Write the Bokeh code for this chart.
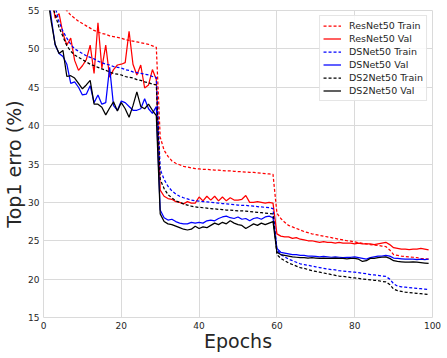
from bokeh.plotting import figure
from bokeh.models import Range1d, FixedTicker, Legend, LegendItem
from bokeh.embed import file_html
from bokeh.resources import INLINE

epochs = list(range(100))

resnet_train = [
    75.0, 68.0, 62.0, 58.5, 56.5, 55.6, 55.0, 54.4, 54.0, 53.6,
    53.3, 53.0, 52.7, 52.4, 52.2, 52.0, 51.9, 51.7, 51.6, 51.5,
    51.4, 51.2, 51.1, 51.0, 50.9, 50.8, 50.7, 50.6, 50.4, 50.2,
    38.5, 36.8, 36.0, 35.4, 35.1, 34.9, 34.7, 34.6, 34.5, 34.4,
    34.35, 34.3, 34.3, 34.25, 34.2, 34.2, 34.15, 34.1, 34.1, 34.05,
    34.0, 34.0, 33.95, 33.9, 33.9, 33.85, 33.8, 33.75, 33.7, 33.65,
    28.6, 27.9, 27.4, 27.0, 26.8, 26.6, 26.4, 26.2, 26.05, 25.9,
    25.8, 25.7, 25.6, 25.5, 25.4, 25.3, 25.2, 25.1, 25.0, 24.95,
    24.85, 24.75, 24.65, 24.6, 24.5, 24.45, 24.4, 24.3, 24.25, 23.8,
    23.2, 23.1, 23.0, 22.95, 22.9, 22.85, 22.8, 22.7, 22.65, 22.6,
]
resnet_val = [
    70.0, 62.0, 57.0, 54.0, 54.6, 52.0, 50.5, 51.4, 48.5, 47.2,
    47.8, 48.6, 50.5, 46.8, 53.4, 47.5, 50.5, 46.3, 47.3, 47.9,
    48.0, 48.2, 52.3, 48.0, 46.6, 47.9, 44.9, 45.3, 47.3, 46.0,
    31.6, 30.8, 30.5, 30.4, 30.1, 30.0, 29.8, 30.1, 29.9, 29.9,
    30.7, 30.2, 30.8, 30.3, 30.8, 30.2, 30.7, 30.2, 30.6, 30.3,
    30.3, 30.4, 30.9, 30.0, 30.0, 30.1, 30.0, 29.9, 30.0, 29.9,
    25.9, 25.6, 25.5, 25.5, 25.3, 25.4, 25.2, 25.1, 25.0, 25.0,
    24.9, 24.8, 24.9, 24.8, 24.8, 24.7, 24.8, 24.7, 24.7, 24.7,
    24.6, 24.7, 24.6, 24.6, 24.6, 24.5, 24.6, 24.7, 24.8, 24.5,
    24.1, 24.0, 23.9, 23.9, 23.85, 23.9, 23.9, 24.0, 23.9, 23.8,
]
dsnet_train = [
    68.0, 61.0, 57.0, 55.5, 53.5, 52.3, 51.4, 50.6, 50.0, 49.7,
    49.4, 49.1, 48.9, 48.7, 48.4, 48.2, 48.0, 47.9, 47.7, 47.6,
    47.5, 47.3, 47.2, 47.0, 46.9, 46.8, 46.7, 46.6, 46.4, 46.3,
    34.3, 33.0, 32.1, 31.5, 31.1, 30.8, 30.6, 30.45, 30.3, 30.2,
    30.15, 30.1, 30.05, 30.0, 29.95, 29.9, 29.85, 29.8, 29.75, 29.7,
    29.65, 29.6, 29.6, 29.55, 29.5, 29.45, 29.4, 29.35, 29.3, 29.2,
    23.8, 23.2, 22.9, 22.6, 22.4, 22.2, 22.0, 21.9, 21.8, 21.7,
    21.6, 21.5, 21.4, 21.3, 21.25, 21.2, 21.1, 21.05, 21.0, 20.95,
    20.9, 20.85, 20.75, 20.7, 20.6, 20.55, 20.5, 20.4, 20.35, 20.0,
    19.4, 19.1, 19.0, 18.95, 18.9, 18.85, 18.8, 18.75, 18.7, 18.65,
]
dsnet_val = [
    65.0, 58.0, 54.0, 50.5, 49.4, 49.0, 48.0, 45.5, 45.7, 45.0,
    44.0, 44.1, 45.2, 43.0, 44.0, 42.8, 43.0, 47.6, 42.6, 42.0,
    43.2, 43.0, 42.5, 42.0, 42.0, 42.2, 43.5, 42.2, 41.6, 42.5,
    29.0, 28.0, 27.7, 27.8, 27.5, 27.3, 27.2, 27.2, 27.4, 27.3,
    27.4, 27.3, 27.6, 27.7, 27.6, 27.9, 28.1, 28.2, 28.0, 27.9,
    28.1, 27.8, 27.9, 27.6, 27.9, 28.0, 27.8, 28.1, 28.2, 28.0,
    24.0, 23.5, 23.4, 23.3, 23.2, 23.2, 23.1, 23.1, 23.0, 23.0,
    22.95, 22.9, 22.95, 22.9, 22.85, 22.9, 22.85, 22.8, 22.85, 22.85,
    22.9, 22.8, 22.7, 22.6, 22.8, 22.9, 23.0, 23.0, 23.1, 23.0,
    22.75, 22.7, 22.65, 22.6, 22.6, 22.6, 22.55, 22.6, 22.55, 22.6,
]
ds2net_train = [
    66.0, 59.0, 56.0, 54.5, 52.8, 51.6, 50.4, 49.7, 49.2, 48.9,
    48.6, 48.3, 48.0, 47.8, 47.6, 47.4, 47.2, 47.0, 46.8, 46.7,
    46.6, 46.4, 46.3, 46.2, 46.0, 45.9, 45.7, 45.6, 45.4, 45.3,
    33.0, 31.8, 31.0, 30.6, 30.2, 30.0, 29.8, 29.65, 29.5, 29.4,
    29.35, 29.3, 29.25, 29.2, 29.15, 29.1, 29.05, 29.0, 29.0, 28.95,
    28.9, 28.9, 28.85, 28.8, 28.75, 28.7, 28.65, 28.6, 28.55, 28.5,
    23.2, 22.7, 22.4, 22.1, 21.9, 21.7, 21.5, 21.4, 21.25, 21.1,
    21.0, 20.9, 20.8, 20.7, 20.6, 20.5, 20.4, 20.35, 20.3, 20.2,
    20.15, 20.1, 20.0, 19.95, 19.9, 19.85, 19.8, 19.7, 19.65, 19.3,
    18.7, 18.5, 18.4, 18.3, 18.25, 18.2, 18.15, 18.1, 18.05, 18.0,
]
ds2net_val = [
    63.0, 57.0, 53.5, 50.6, 49.4, 49.8, 46.4, 46.5, 46.2, 45.5,
    44.8, 45.3, 45.9, 42.8, 42.8, 42.4, 41.4, 42.3, 43.1, 41.9,
    43.0, 42.2, 41.1, 42.6, 44.4, 42.5, 42.2, 42.8, 42.0, 41.3,
    28.5, 27.5, 27.2, 27.1, 26.9, 26.7, 26.5, 26.4, 26.5, 26.9,
    26.6, 26.8, 26.7, 27.0, 27.3, 27.1, 27.4, 27.2, 27.6, 27.3,
    27.1, 27.0, 26.6, 26.9, 27.2, 27.0, 27.3, 27.1, 27.3, 27.5,
    23.5, 23.2, 23.1, 23.0, 22.9, 22.85, 22.8, 22.8, 22.75, 22.8,
    22.75, 22.7, 22.75, 22.7, 22.7, 22.75, 22.7, 22.7, 22.65, 22.7,
    22.7, 22.6, 22.3, 22.4, 22.7, 22.7, 22.8, 22.85, 22.9, 22.7,
    22.4, 22.3, 22.25, 22.2, 22.2, 22.25, 22.2, 22.15, 22.1, 22.05,
]

x_ticks = [0, 20, 40, 60, 80, 100]
y_ticks = [15, 20, 25, 30, 35, 40, 45, 50, 55]

series = [
    ("ResNet50 Train", resnet_train, "#ff0000", "3 2"),
    ("ResNet50 Val", resnet_val, "#ff0000", "solid"),
    ("DSNet50 Train", dsnet_train, "#0000ff", "3 2"),
    ("DSNet50 Val", dsnet_val, "#0000ff", "solid"),
    ("DS2Net50 Train", ds2net_train, "#000000", "3 2"),
    ("DS2Net50 Val", ds2net_val, "#000000", "solid"),
]

FONT = "DejaVu Sans"
TXT = "#262626"
GRID = "#dadada"

p = figure(width=447, height=358, output_backend="svg", toolbar_location=None,
           x_range=Range1d(0, 100), y_range=Range1d(15, 55),
           min_border_left=43, min_border_right=15, min_border_top=10, min_border_bottom=41)
p.background_fill_color = "white"
p.border_fill_color = "white"
p.outline_line_color = GRID
p.outline_line_width = 1

items = []
for name, vals, color, dash in series:
    r = p.line(epochs, vals, line_color=color, line_width=1.25, line_dash=dash)
    items.append(LegendItem(label=name, renderers=[r]))

p.xaxis.ticker = FixedTicker(ticks=x_ticks)
p.yaxis.ticker = FixedTicker(ticks=y_ticks)
p.xgrid.ticker = FixedTicker(ticks=x_ticks)
p.ygrid.ticker = FixedTicker(ticks=y_ticks)
p.grid.grid_line_color = GRID
p.grid.grid_line_width = 1

for ax in (p.xaxis, p.yaxis):
    ax.axis_line_color = None
    ax.major_tick_line_color = None
    ax.minor_tick_line_color = None
    ax.major_tick_out = 0
    ax.major_tick_in = 0
    ax.major_label_text_font = FONT
    ax.major_label_text_font_size = "9px"
    ax.major_label_text_color = TXT
    ax.axis_label_text_font = FONT
    ax.axis_label_text_font_size = "19px"
    ax.axis_label_text_font_style = "normal"
    ax.axis_label_text_color = TXT

p.xaxis.axis_label = "Epochs"
p.yaxis.axis_label = "Top1 erro (%)"
p.xaxis.major_label_standoff = 4
p.yaxis.major_label_standoff = 4
p.xaxis.axis_label_standoff = -2
p.yaxis.axis_label_standoff = 0

legend = Legend(items=items, location="top_right")
legend.label_text_font = FONT
legend.label_text_font_size = "9.5px"
legend.label_text_color = TXT
legend.glyph_width = 18
legend.glyph_height = 13
legend.label_height = 13
legend.label_standoff = 8
legend.spacing = 0
legend.padding = 3
legend.margin = 5
legend.border_line_color = "#cccccc"
legend.border_line_width = 1
legend.background_fill_color = "white"
legend.background_fill_alpha = 0.85
p.add_layout(legend)

html = file_html(p, INLINE)
with open("out.html", "w") as f:
    f.write(html)
